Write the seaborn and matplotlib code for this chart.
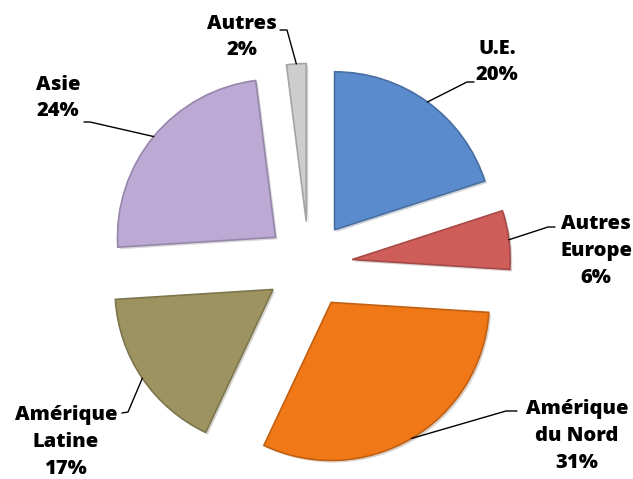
import matplotlib.pyplot as plt
import seaborn as sns
import numpy as np
from matplotlib import patheffects as pe
from matplotlib.colors import to_rgb

# data
regions = ["U.E.", "Autres\nEurope", "Amérique\ndu Nord", "Amérique\nLatine", "Asie", "Autres"]
shares = [20, 6, 31, 17, 24, 2]
colors = ["#5A8BCC", "#CF5D5A", "#F17816", "#9C9360", "#BCA9D4", "#CDCDCD"]

# label layout (pixels, from top-left)
label_xy = [(497, 62), (596, 251), (577, 436), (66, 442), (58, 98), (242, 37)]
elbows = [(467, 82), (548, 227), (506, 411), (128, 412), (90, 122), (287, 30)]
tails = [(474, 82), (555, 227), (517, 411), (122, 413), (84, 122), (280, 30)]

W, H = 633, 479


def darker(c, f=0.8):
    r, g, b = to_rgb(c)
    return (r * f, g * f, b * f)


def main():
    sns.set_theme(style="white")
    plt.rcParams['font.family'] = ['Open Sans', 'DejaVu Sans']

    fig = plt.figure(figsize=(W / 100, H / 100), dpi=100)
    ax = fig.add_axes([0, 0, 1, 1])

    # explode is in data units here (pixels)
    wedges, _ = ax.pie(shares, explode=[43.5] * len(shares), startangle=90,
                       counterclock=False, colors=colors, center=(309, H - 265),
                       radius=158, frame=False)
    for w, c in zip(wedges, colors):
        w.set_edgecolor(darker(c))
        w.set_linewidth(1.2)
        w.set_path_effects([pe.SimplePatchShadow(offset=(1.5, -1.5), alpha=0.2),
                            pe.Normal()])

    for i, w in enumerate(wedges):
        mid = np.deg2rad((w.theta1 + w.theta2) / 2)
        cx, cy = w.center
        px, py = cx + w.r * np.cos(mid), cy + w.r * np.sin(mid)
        ex, ey = elbows[i]
        tx, ty = tails[i]
        ax.plot([px, ex, tx], [py, H - ey, H - ty], color="black", lw=1.0)
        lx, ly = label_xy[i]
        ax.text(lx, H - ly, f"{regions[i]}\n{shares[i]}%", ha="center", va="center",
                fontsize=14.5, fontweight="heavy", linespacing=1.45, color="black")

    ax.set_xlim(0, W)
    ax.set_ylim(0, H)
    ax.set_aspect("equal")
    ax.axis("off")
    fig.savefig("out.png", dpi=100)


if __name__ == '__main__':
    main()
